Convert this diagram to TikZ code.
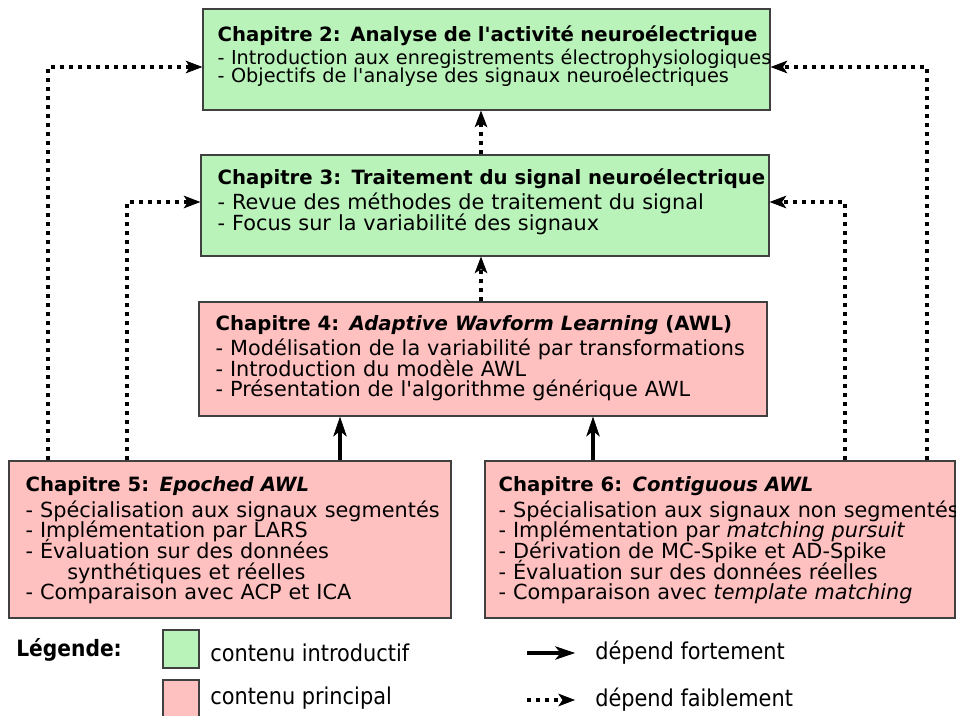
\documentclass[tikz,border=0pt]{standalone}
\usepackage{fontspec}
\setmainfont{DejaVu Sans}[Ligatures=TeXOff]
\newfontfamily\legfont{DejaVu Sans Condensed}[Ligatures=TeXOff]
\usetikzlibrary{arrows.meta,fit,positioning}

\definecolor{introgreen}{RGB}{186,243,186}
\definecolor{mainpink}{RGB}{255,192,192}

\newcommand\chaptitle[1]{{\fontsize{14}{14}\selectfont\bfseries #1}\\[3.5pt]}

\tikzset{
  chapbox/.style={draw=black!75, line width=0.9pt, inner sep=0pt},
  introbox/.style={chapbox, fill=introgreen},
  mainbox/.style={chapbox, fill=mainpink},
  chaptext/.style={anchor=north west, inner sep=0pt, align=left, text width=16cm,
    font=\fontsize{14.8}{14.5}\selectfont,
    execute at begin node={\setlength{\lineskiplimit}{-20pt}}},
  strong/.style={line width=3.5pt,
    -{Stealth[length=0.5cm,width=0.34cm,inset=0.14cm,line width=0.5pt]}},
  weak/.style={line width=2.8pt, dash pattern=on 2.8pt off 3.6pt,
    -{Stealth[length=0.42cm,width=0.32cm,inset=0.11cm,line width=0.5pt]}},
  legtext/.style={anchor=west, inner sep=0pt,
    font=\legfont\fontsize{16.5}{18}\selectfont},
}

\begin{document}
\begin{tikzpicture}[x=0.025cm, y=-0.025cm]
  \useasboundingbox (0,0) rectangle (956,716);

  % introductory chapters
  \node[introbox, fit={(203,9) (770,110)}] (c2) {};
  \node[chaptext, font=\fontsize{13.7}{12.8}\selectfont]
    at ([shift={(15,17)}]c2.north west)
    {\chaptitle{Chapitre 2: Analyse de l'activité neuroélectrique}
     - Introduction aux enregistrements électrophysiologiques\\
     - Objectifs de l'analyse des signaux neuroélectriques};

  \node[introbox, fit={(201,155) (769,256)}] (c3) {};
  \node[chaptext] at ([shift={(17,14)}]c3.north west)
    {\chaptitle{Chapitre 3: Traitement du signal neuroélectrique}
     - Revue des méthodes de traitement du signal\\
     - Focus sur la variabilité des signaux};

  % main chapters
  \node[mainbox, fit={(199,302) (767,416)}] (c4) {};
  \node[chaptext] at ([shift={(17,14)}]c4.north west)
    {\chaptitle{Chapitre 4: \textit{Adaptive Wavform Learning} (AWL)}
     - Modélisation de la variabilité par transformations\\
     - Introduction du modèle AWL\\
     - Présentation de l'algorithme générique AWL};

  \node[mainbox, fit={(9,461) (451,618)}] (c5) {};
  \node[chaptext, font=\fontsize{14.8}{14.7}\selectfont]
    at ([shift={(17,16)}]c5.north west)
    {\chaptitle{Chapitre 5: \textit{Epoched AWL}}
     - Spécialisation aux signaux segmentés\\
     - Implémentation par LARS\\
     - Évaluation sur des données\\
     \hspace*{2em}synthétiques et réelles\\
     - Comparaison avec ACP et ICA};

  \node[mainbox, fit={(485,461) (955,618)}] (c6) {};
  \node[chaptext, font=\fontsize{14.8}{14.7}\selectfont]
    at ([shift={(14,16)}]c6.north west)
    {\chaptitle{Chapitre 6: \textit{Contiguous AWL}}
     - Spécialisation aux signaux non segmentés\\
     - Implémentation par \textit{matching pursuit}\\
     - Dérivation de MC-Spike et AD-Spike\\
     - Évaluation sur des données réelles\\
     - Comparaison avec \textit{template matching}};

  % dependencies
  \draw[strong] (c5.north -| 340,0) -- (c4.south -| 340,0);
  \draw[strong] (c6.north -| 593,0) -- (c4.south -| 593,0);
  \draw[weak] (c4.north -| 481,0) -- (c3.south -| 481,0);
  \draw[weak] (c3.north -| 481,0) -- (c2.south -| 481,0);
  \draw[weak] (c5.north -| 48,0) |- (c2.west |- 0,67);
  \draw[weak] (c5.north -| 127,0) |- (c3.west |- 0,202);
  \draw[weak] (c6.north -| 845,0) |- (c3.east |- 0,202);
  \draw[weak] (c6.north -| 927,0) |- (c2.east |- 0,67);

  % legend
  \node[anchor=west, inner sep=0pt, font=\legfont\bfseries\fontsize{16}{18}\selectfont]
    (leg) at (16,650) {Légende:};
  \node[introbox, fit={(163,630) (199,668)}] (legintro) {};
  \node[mainbox, fit={(163,680) (199,718)}] (legmain) {};
  \node[legtext] (legintrotxt) at (210,653) {contenu introductif};
  \node[legtext] (legmaintxt) at (210,698) {contenu principal};
  \coordinate (ls1) at (527,653);
  \coordinate (ls2) at (575,653);
  \coordinate (lw1) at (527,700);
  \coordinate (lw2) at (575,700);
  \draw[strong] (ls1) -- (ls2);
  \draw[weak] (lw1) -- (lw2);
  \node[legtext] (legstrong) at (595,653) {dépend fortement};
  \node[legtext] (legweak) at (595,700) {dépend faiblement};
\end{tikzpicture}
\end{document}
